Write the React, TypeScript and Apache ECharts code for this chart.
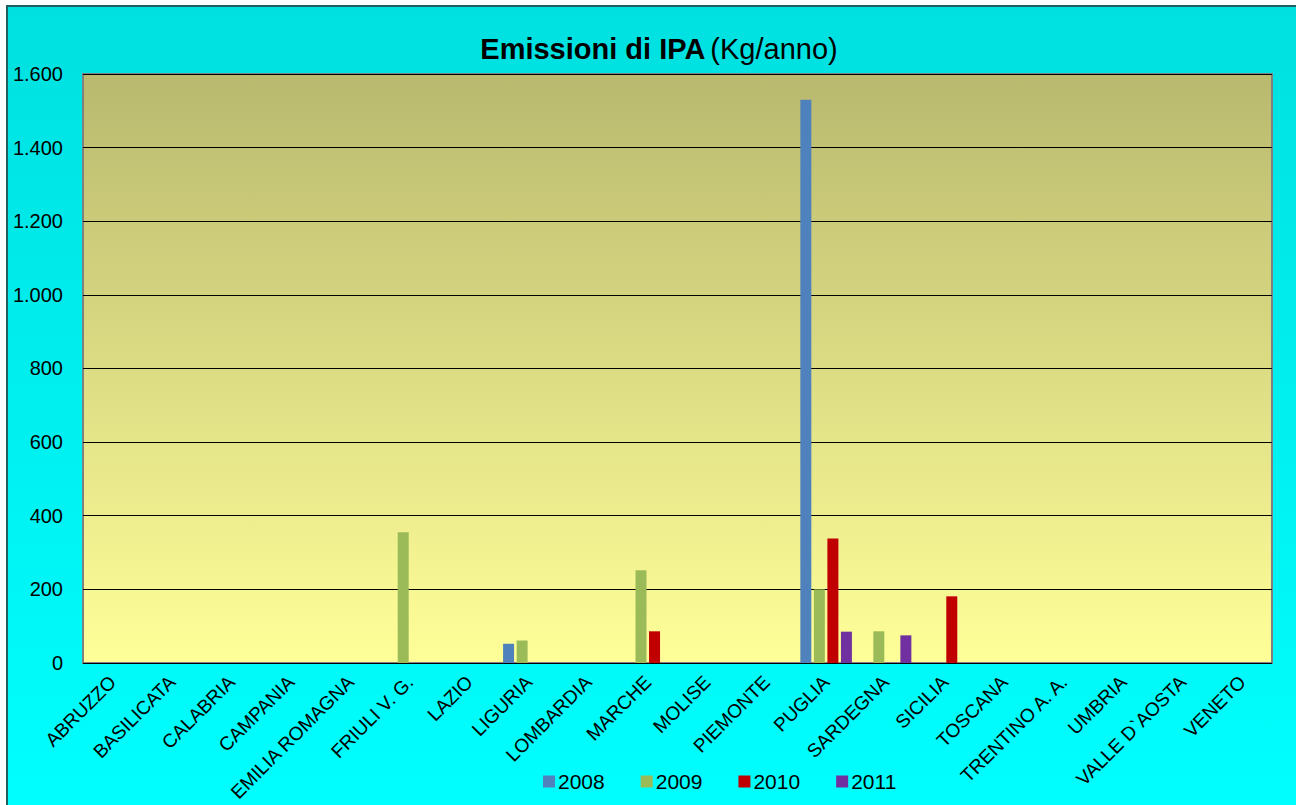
import React, { useEffect, useRef } from "react";
import * as echarts from "echarts";

const categories = [
  "ABRUZZO", "BASILICATA", "CALABRIA", "CAMPANIA", "EMILIA ROMAGNA", "FRIULI V. G.",
  "LAZIO", "LIGURIA", "LOMBARDIA", "MARCHE", "MOLISE", "PIEMONTE", "PUGLIA",
  "SARDEGNA", "SICILIA", "TOSCANA", "TRENTINO A. A.", "UMBRIA", "VALLE D`AOSTA", "VENETO",
];
const years = ["2008", "2009", "2010", "2011"];
const values2008 = [0, 0, 0, 0, 0, 0, 0, 52, 0, 0, 0, 0, 1530, 0, 0, 0, 0, 0, 0, 0];
const values2009 = [0, 0, 0, 0, 0, 355, 0, 61, 0, 252, 0, 0, 200, 86, 0, 0, 0, 0, 0, 0];
const values2010 = [0, 0, 0, 0, 0, 0, 0, 0, 0, 86, 0, 0, 338, 0, 181, 0, 0, 0, 0, 0];
const values2011 = [0, 0, 0, 0, 0, 0, 0, 0, 0, 0, 0, 0, 85, 75, 0, 0, 0, 0, 0, 0];
const colors = ["#4F81BD", "#9BBB59", "#C00000", "#7030A0"];

const FONT = "'Liberation Sans', Arial, sans-serif";

export default function App() {
  const ref = useRef<HTMLDivElement>(null);
  useEffect(() => {
    document.body.style.margin = "0";
    const chart = echarts.init(ref.current!, null, { renderer: "svg" });
    const seriesData = [values2008, values2009, values2010, values2011];
    chart.setOption({
      animation: false,
      textStyle: { fontFamily: FONT },
      graphic: [
        {
          type: "rect",
          z: -10,
          shape: { x: 7, y: 6, width: 1300, height: 810 },
          style: {
            fill: new echarts.graphic.LinearGradient(0, 0, 0, 1, [
              { offset: 0, color: "#00E0E0" },
              { offset: 1, color: "#00FFFF" },
            ]),
            stroke: "#1F5F5F",
            lineWidth: 2,
          },
        },
      ],
      title: {
        text: "{b|Emissioni di IPA} {n|(Kg/anno)}",
        left: 654,
        textAlign: "center",
        top: 29,
        textStyle: {
          fontWeight: "normal",
          rich: {
            b: { fontFamily: FONT, fontSize: 29, fontWeight: "bold", color: "#000" },
            n: { fontFamily: FONT, fontSize: 29, fontWeight: "normal", color: "#000" },
          },
        },
      },
      legend: {
        left: 538,
        top: 766,
        itemWidth: 12,
        itemHeight: 12,
        itemGap: 36,
        icon: "rect",
        textStyle: { fontFamily: FONT, fontSize: 21, color: "#000", padding: [0, 0, 0, -2] },
        data: years,
      },
      grid: {
        left: 83,
        top: 74,
        width: 1189,
        height: 591,
        show: true,
        backgroundColor: new echarts.graphic.LinearGradient(0, 0, 0, 1, [
          { offset: 0, color: "#B9B96F" },
          { offset: 1, color: "#FFFF99" },
        ]),
        borderColor: "#808080",
        borderWidth: 2,
      },
      xAxis: {
        type: "category",
        data: categories,
        axisLine: { show: false },
        axisTick: { show: false },
        axisLabel: {
          interval: 0,
          rotate: 45,
          margin: 16,
          fontFamily: FONT,
          fontSize: 19,
          color: "#000",
        },
      },
      yAxis: {
        type: "value",
        min: 0,
        max: 1600,
        interval: 200,
        axisLine: { show: false },
        axisTick: { show: false },
        splitLine: { lineStyle: { color: "#000", width: 1 } },
        axisLabel: {
          margin: 20,
          fontFamily: FONT,
          fontSize: 20,
          color: "#000",
          formatter: (v: number) => v.toString().replace(/\B(?=(\d{3})+(?!\d))/g, "."),
        },
      },
      series: years.map((y, i) => ({
        name: y,
        type: "bar",
        data: seriesData[i],
        barWidth: 11,
        barGap: "23%",
        itemStyle: { color: colors[i] },
      })),
    });
    return () => chart.dispose();
  }, []);
  return <div ref={ref} style={{ width: 1296, height: 805 }} />;
}
